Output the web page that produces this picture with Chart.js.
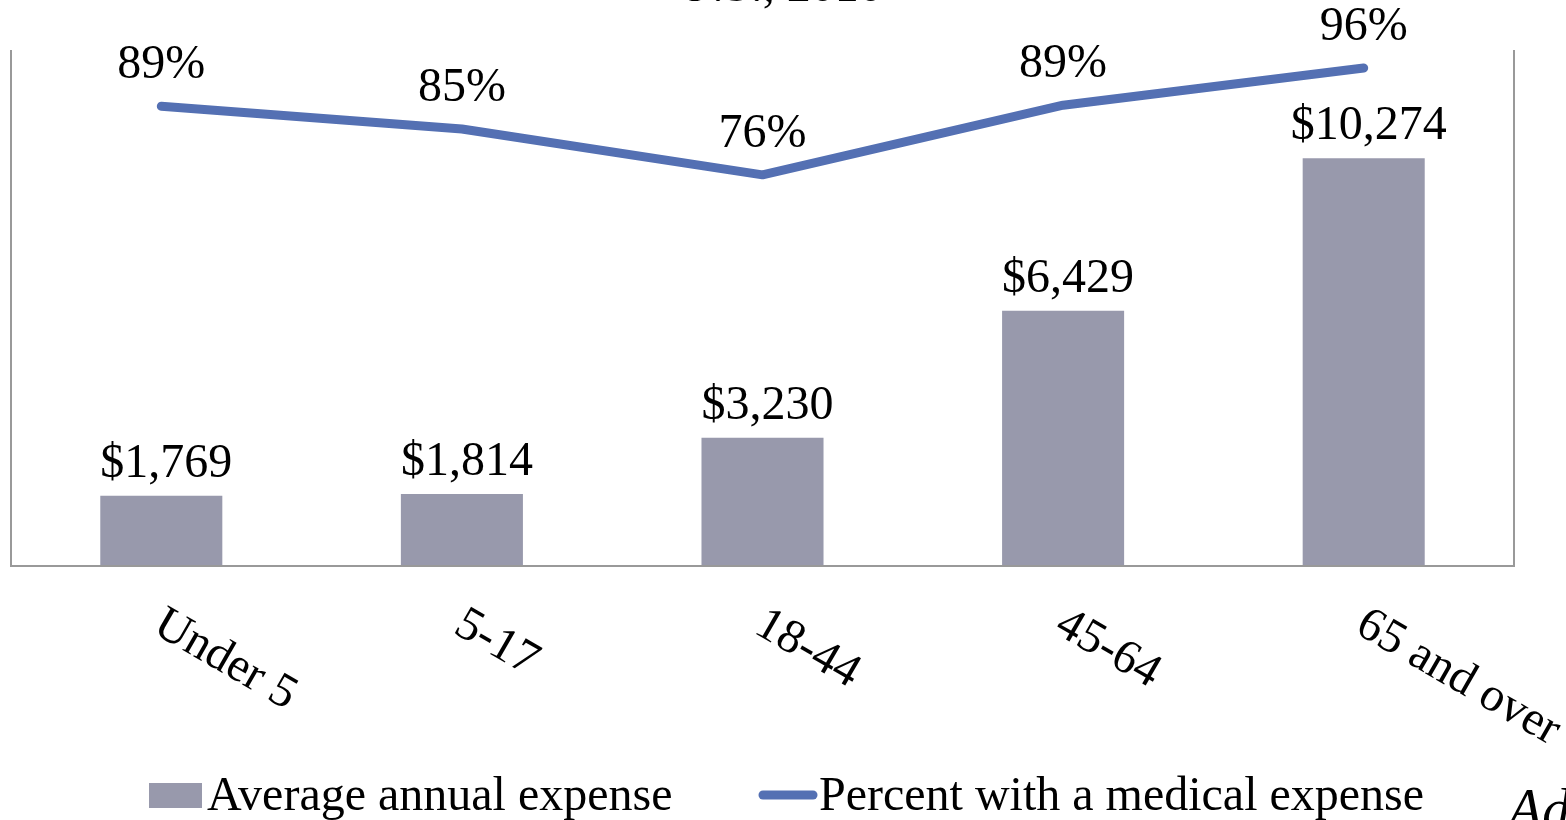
<!DOCTYPE html>
<html>
<head>
<meta charset="utf-8">
<script src="https://cdn.jsdelivr.net/npm/chart.js@4.4.1/dist/chart.umd.min.js"></script>
<style>
  html, body { margin: 0; padding: 0; background: #fff; }
  #wrap { width: 1566px; height: 820px; }
</style>
</head>
<body>
<div id="wrap"><canvas id="chart" width="1566" height="820"></canvas></div>
<script>
// ================= DATA =================
const ageGroups = ["Under 5", "5-17", "18-44", "45-64", "65 and over"];
const avgExpense = [1769, 1814, 3230, 6429, 10274];
const pctWithExpense = [0.891, 0.847, 0.758, 0.893, 0.965];
const pctLabels = ["89%", "85%", "76%", "89%", "96%"];

const barColor = "#9899ac";
const lineColor = "#5470b3";
const frameColor = "#999999";
const font = "'Liberation Serif', 'Times New Roman', serif";

// ================= PLUGIN =================
// frame, data labels, rotated category labels, legend
const drawExtras = {
  id: "drawExtras",
  afterDatasetsDraw(chart) {
    const ctx = chart.ctx;
    const area = chart.chartArea;
    const xScale = chart.scales.x;

    ctx.save();

    // frame (left, right, bottom)
    ctx.strokeStyle = frameColor;
    ctx.lineWidth = 2;
    ctx.beginPath();
    ctx.moveTo(area.left, area.top);
    ctx.lineTo(area.left, area.bottom);
    ctx.lineTo(area.right, area.bottom);
    ctx.lineTo(area.right, area.top);
    ctx.stroke();

    ctx.fillStyle = "#000";
    ctx.font = "48px " + font;
    ctx.textAlign = "center";
    ctx.textBaseline = "alphabetic";

    // bar labels
    chart.getDatasetMeta(0).data.forEach((bar, i) => {
      ctx.fillText("$" + avgExpense[i].toLocaleString("en-US"), bar.x + 5, bar.y - 19);
    });

    // line labels
    chart.getDatasetMeta(1).data.forEach((pt, i) => {
      ctx.fillText(pctLabels[i], pt.x, pt.y - 28);
    });

    // category labels, rotated clockwise
    ctx.textAlign = "left";
    ageGroups.forEach((g, i) => {
      const x = xScale.getPixelForValue(i);
      ctx.save();
      ctx.translate(x - 10, area.bottom + 66);
      ctx.rotate(30 * Math.PI / 180);
      ctx.fillText(g, 0, 0);
      ctx.restore();
    });

    // legend
    const ds = chart.data.datasets;
    ctx.fillStyle = ds[0].backgroundColor;
    ctx.fillRect(149, 783, 53, 25);
    ctx.strokeStyle = ds[1].borderColor;
    ctx.lineWidth = 9;
    ctx.lineCap = "round";
    ctx.beginPath();
    ctx.moveTo(763, 795);
    ctx.lineTo(813, 795);
    ctx.stroke();
    ctx.fillStyle = "#000";
    ctx.fillText(ds[0].label, 207, 810);
    ctx.fillText(ds[1].label, 819, 810);

    // cut-off title and corner mark
    ctx.textAlign = "center";
    ctx.fillText("U.S., 2010", 780, 1);
    ctx.font = "italic 56px " + font;
    ctx.textAlign = "left";
    ctx.fillText("Ad", 1508, 828);

    ctx.restore();
  }
};

// ================= CHART =================
new Chart(document.getElementById("chart"), {
  type: "bar",
  data: {
    labels: ageGroups,
    datasets: [
      {
        type: "bar",
        label: "Average annual expense",
        data: avgExpense,
        backgroundColor: barColor,
        yAxisID: "y",
        categoryPercentage: 1,
        barPercentage: 0.406,
        order: 2
      },
      {
        type: "line",
        label: "Percent with a medical expense",
        data: pctWithExpense,
        borderColor: lineColor,
        backgroundColor: lineColor,
        borderWidth: 9,
        borderCapStyle: "round",
        borderJoinStyle: "round",
        pointRadius: 0,
        tension: 0,
        yAxisID: "y1",
        order: 1
      }
    ]
  },
  options: {
    responsive: false,
    animation: false,
    events: [],
    layout: { padding: { left: 11, right: 52, top: 50, bottom: 254 } },
    plugins: {
      legend: { display: false },
      tooltip: { enabled: false },
      title: { display: false }
    },
    scales: {
      x: { display: false, offset: true },
      y: { display: false, min: 0, max: 13000 },
      y1: { display: false, position: "right", min: 0, max: 1 }
    }
  },
  plugins: [drawExtras]
});
</script>
</body>
</html>
